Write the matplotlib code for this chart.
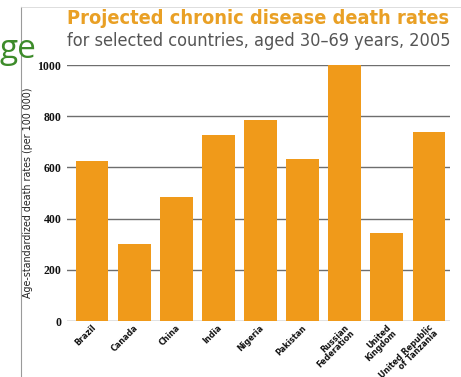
import matplotlib
matplotlib.use("Agg")
import matplotlib.pyplot as plt
from matplotlib.lines import Line2D

# Chart data
countries = ["Brazil", "Canada", "China", "India", "Nigeria", "Pakistan",
             "Russian\nFederation", "United\nKingdom", "United Republic\nof Tanzania"]
death_rates = [626, 302, 483, 728, 785, 633, 1000, 343, 738]
y_ticks = [0, 200, 400, 600, 800, 1000]

title = "Projected chronic disease death rates"
subtitle = "for selected countries, aged 30\u201369 years, 2005"
y_label = "Age-standardized death rates (per 100 000)"

BAR = "#F09A1A"
TITLE_C = "#E9A025"
GRID = "#6e6e6e"

W, H = 461, 377
fig = plt.figure(figsize=(W / 100, H / 100), dpi=100)
fig.patch.set_facecolor("white")

# plot area in pixel coordinates
x0, x1, y_top, y_bot = 67, 450, 65, 321
ax = fig.add_axes([x0 / W, 1 - y_bot / H, (x1 - x0) / W, (y_bot - y_top) / H])

xs = list(range(len(countries)))
ax.set_xlim(-0.594, 8.5)
ax.set_ylim(0, 1000)

for y in y_ticks:
    ax.axhline(y, color=GRID, lw=1.0, zorder=1)
ax.bar(xs, death_rates, width=0.78, color=BAR, zorder=2)

for s in ax.spines.values():
    s.set_visible(False)

ax.set_yticks(y_ticks)
ax.set_yticklabels([str(v) for v in y_ticks], family="Liberation Serif",
                   fontweight="bold", fontsize=8.5, color="#111111")
ax.tick_params(axis="y", length=0, pad=4)

ax.set_xticks([x - 0.02 for x in xs])
ax.set_xticklabels(countries, rotation=45, ha="right", rotation_mode="anchor",
                   family="DejaVu Sans", fontstretch="condensed", fontweight="bold",
                   fontsize=6.4, linespacing=0.85, multialignment="right",
                   color="#111111")
ax.tick_params(axis="x", length=0, pad=1.5)

# frame lines
fig.add_artist(Line2D([21 / W, 21 / W], [0, 1 - 7 / H], color="#9a9a9a", lw=0.8))
fig.add_artist(Line2D([21 / W, 1], [1 - 7 / H, 1 - 7 / H], color="#d8d8d8", lw=0.6))

fig.text(x0 / W, 1 - 19 / H, title, color=TITLE_C, fontsize=14.3,
         fontweight="heavy", family="DejaVu Sans", fontstretch="condensed",
         va="center", ha="left")
fig.text(x0 / W, 1 - 41 / H, subtitle, color="#555555", fontsize=13,
         family="DejaVu Sans", fontstretch="condensed", va="center", ha="left")

fig.text(28 / W, 1 - 193 / H, y_label, rotation=90, color="#222222",
         fontsize=7.7, family="DejaVu Sans", fontstretch="condensed",
         va="center", ha="center")

fig.text(0 / W, 1 - 58 / H, "ge", color="#3d8b2a", fontsize=24,
         family="Open Sans", va="baseline", ha="left")

fig.savefig("out.png", dpi=100)
